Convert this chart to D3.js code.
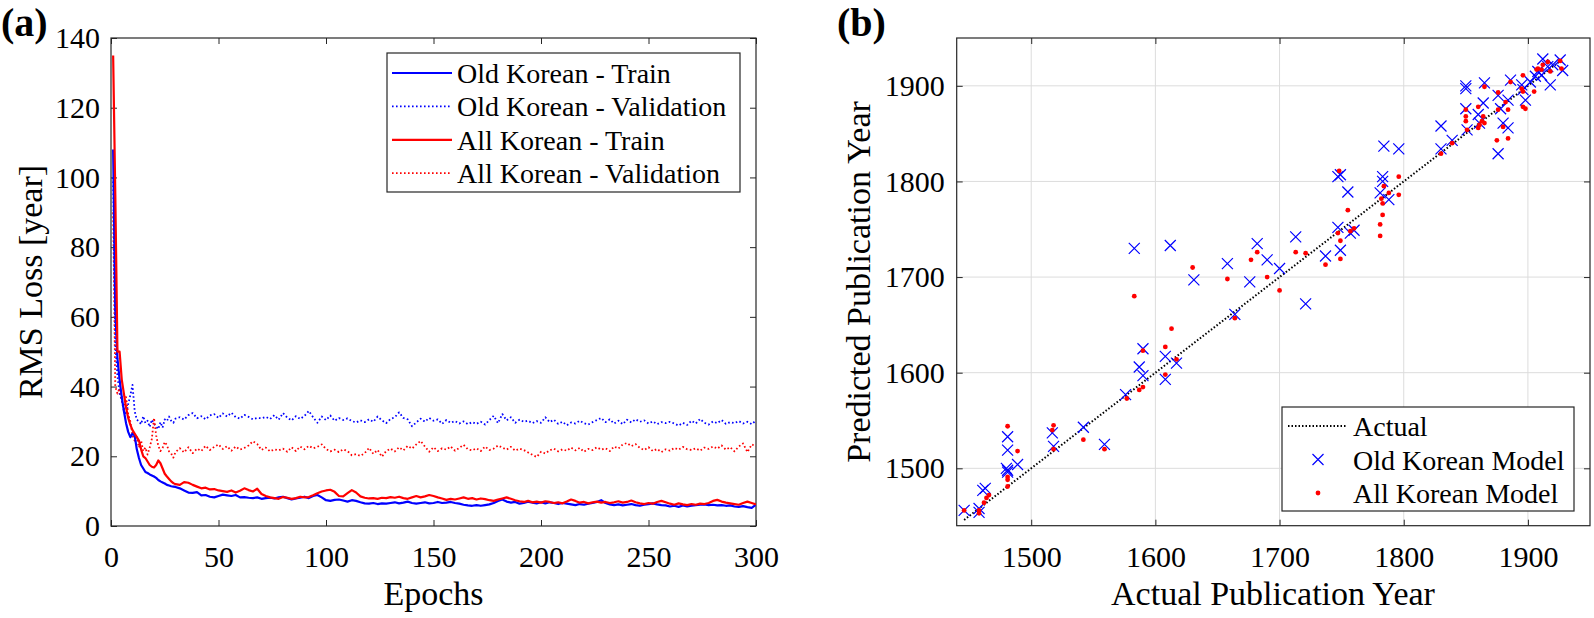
<!DOCTYPE html>
<html><head><meta charset="utf-8">
<script src="https://cdn.jsdelivr.net/npm/d3@7"></script>
<style>
body{margin:0;background:#fff;}
svg text{font-family:"Liberation Serif","Times New Roman",serif;fill:#000;}
</style></head>
<body><svg id="chart" width="1594" height="618"></svg>
<script>
// ---------- Panel (a) data ----------
const epochs = d3.range(1, 31).concat(d3.range(32, 301, 2));
const oldTrain = [108,62,48,42,37,33,29.5,27,25.5,26.5,26,22,19.5,17.5,16.5,15.5,15.2,14.8,14.5,14.2,13.8,13.2,12.8,12.5,12.2,11.8,11.6,11.4,11.3,11.2,
10.8,10.2,9.6,9.5,9.7,8.8,8.9,8.4,8.2,8.6,9.0,8.8,8.6,8.9,8.2,8.3,8.1,8.0,8.2,7.8,8.0,8.1,7.9,8.2,8.4,8.0,7.6,7.9,8.1,8.4,8.0,8.6,8.9,8.2,
7.4,7.2,7.5,7.6,7.3,7.0,7.4,7.2,6.8,6.5,6.4,6.6,6.3,6.5,6.4,6.6,6.8,6.5,6.7,7.0,6.6,6.4,6.6,6.8,6.5,6.6,6.9,6.6,6.7,6.9,6.6,6.4,6.1,5.9,5.8,6.0,
5.8,6.0,6.2,6.6,7.2,7.6,7.0,6.7,6.9,6.4,6.6,7.0,6.7,6.5,6.8,6.5,6.8,6.6,6.3,6.6,6.4,6.2,6.0,6.3,6.1,6.4,6.6,6.9,7.4,6.6,6.2,6.0,6.2,5.9,6.1,6.3,
6.0,5.8,6.1,6.3,6.5,6.2,6.0,5.9,5.6,5.8,5.5,5.9,5.6,5.8,6.0,6.1,6.2,6.0,6.1,5.9,6.0,5.8,5.9,5.6,5.5,5.7,5.4,5.2,6.1];
const oldVal = [100,52,43,38,36,33.5,32,35,37.5,40.5,33,30.5,30,29.2,31.5,29.5,30.2,28.4,30.5,29.3,28.5,27.8,29.8,28.2,30.6,30.1,31.4,30.2,29.6,30.8,
31.2,30.5,31.8,32.4,30.9,31.5,30.6,31.7,32.1,31.0,32.3,31.4,32.5,31.2,30.8,31.9,31.3,30.6,31.0,30.9,31.3,30.7,31.8,30.5,32.4,31.1,30.3,31.5,30.7,31.6,
33.0,31.2,29.6,31.4,30.4,31.7,30.2,31.0,30.4,30.9,30.1,29.7,30.3,29.8,30.6,29.9,31.4,30.3,29.5,30.7,31.2,32.6,31.0,30.6,28.6,29.7,30.8,29.9,31.0,30.2,
30.6,29.3,30.4,29.6,30.1,29.4,30.0,29.2,29.8,29.3,29.9,29.1,30.4,31.6,29.5,32.1,30.3,31.2,29.6,30.5,29.9,30.2,29.5,30.1,29.6,31.2,29.8,30.5,29.3,29.9,
28.9,29.7,29.4,30.2,29.5,29.1,29.8,30.4,31.0,29.8,30.6,29.4,30.2,29.2,30.5,29.7,30.6,29.9,30.3,29.4,30.0,29.2,29.8,29.5,29.9,29.4,28.8,29.6,29.0,30.2,
29.4,30.7,29.6,29.1,30.0,29.5,30.4,29.3,29.8,29.5,30.1,29.4,29.9,29.2,30.3];
const allTrain = [135,95,50,50,42,38,34,31,29,27.5,26.5,25.5,24.5,22,20,19.5,18.5,17.5,17,16.8,17.5,18.8,18,16.5,15,14.2,13.5,12.8,12.3,12,
11.8,12.6,12.4,11.8,11.3,10.8,11.0,10.5,10.6,10.2,10.0,9.8,10.2,9.6,10.1,10.8,10.3,9.9,10.7,9.2,8.6,8.2,8.0,7.8,8.3,8.1,7.8,8.0,8.4,8.2,
8.3,8.8,9.4,9.9,10.2,10.4,9.8,8.6,8.5,9.4,10.3,9.6,8.5,8.1,7.9,8.0,7.8,8.1,8.0,8.3,8.1,8.4,8.0,7.8,8.2,8.6,8.2,8.5,8.9,8.6,
8.2,7.9,7.5,7.8,7.6,7.9,8.2,7.8,8.0,7.6,7.9,7.7,7.4,7.2,7.6,7.9,8.2,7.8,7.4,7.1,6.9,7.2,6.8,7.0,6.7,7.1,6.9,6.6,6.8,6.5,
7.0,7.6,7.2,6.7,6.9,6.5,6.8,7.0,6.7,6.9,6.6,6.8,7.1,6.7,6.9,7.3,6.8,6.5,6.3,6.6,6.4,6.9,7.2,6.8,6.4,6.1,6.5,6.2,6.0,6.3,
6.1,6.4,6.3,6.6,7.2,7.5,7.0,6.7,6.5,6.3,6.1,6.6,7.0,6.6,6.2];
const allVal = [90,40,38,39.5,36,33,37,32,30,26,24.5,25.5,22.5,24.5,21.5,22.5,20.5,22.5,25,31,26,23,21.5,22.4,24.1,23.2,21.4,20.8,19.6,21.2,
22.3,21.1,22.6,20.9,22.2,21.5,23.0,21.8,22.7,23.4,22.1,22.9,21.6,22.8,21.9,22.4,23.1,24.3,23.5,21.8,22.5,21.4,22.0,21.7,22.2,21.3,22.6,21.5,22.8,22.0,
23.0,22.3,22.7,23.4,22.1,21.4,21.9,21.2,22.0,21.5,20.3,20.6,20.1,20.9,22.4,20.7,21.8,19.9,21.5,22.2,21.4,22.6,21.7,23.0,22.2,23.4,24.4,22.8,21.3,22.6,
21.5,22.3,21.9,22.8,21.6,22.4,23.3,22.0,21.7,22.3,21.5,22.8,21.8,22.2,23.1,22.5,21.9,22.7,21.6,22.2,21.8,21.1,20.4,19.8,21.3,20.8,21.7,22.2,21.4,22.0,
21.6,22.5,21.7,22.4,21.3,22.1,21.8,22.6,21.9,22.3,21.5,22.8,22.2,23.4,23.8,22.9,23.5,22.4,21.8,22.6,21.5,22.1,21.2,22.0,21.6,22.4,21.9,22.7,22.0,21.8,
22.3,21.6,22.5,22.1,22.8,22.2,23.1,21.9,22.6,21.4,22.8,23.7,21.2,23.4,22.9];
const lossXTicks = [0,50,100,150,200,250,300];
const lossYTicks = [0,20,40,60,80,100,120,140];
const lossLegend = ["Old Korean - Train","Old Korean - Validation","All Korean - Train","All Korean - Validation"];

// ---------- Panel (b) data ----------
const oldActual = [1583,1612,1631,1590,1608,1617,1587,1590,1608,1576,1542,1559,1517,1518,1481,1481,1489,1481,1480,1481,1463,1461,1458,1458,1446,1658,1676,1682,1690,1700,1713,1721,1737,1747,1749,1757,1760,1747,1749,1755,1783,1783,1781,1788,1784,1796,1830,1830,1839,1850,1850,1850,1851,1865,1864,1860,1861,1876,1884,1878,1880,1884,1876,1886,1895,1896,1898,1902,1918,1906,1908,1912,1916,1920,1926,1928,1911,1664];
const oldPred   = [1730,1733,1697,1625,1617,1610,1606,1597,1593,1577,1543,1525,1537,1523,1533,1519,1504,1498,1500,1496,1479,1477,1458,1454,1456,1714,1695,1735,1718,1709,1742,1672,1722,1752,1728,1746,1749,1805,1807,1789,1805,1800,1788,1781,1837,1834,1858,1834,1843,1900,1897,1876,1854,1903,1882,1870,1861,1890,1885,1876,1861,1856,1829,1906,1901,1896,1885,1904,1901,1910,1915,1928,1920,1922,1927,1916,1911,1661];
const allActual = [1583,1630,1613,1590,1608,1617,1608,1590,1587,1577,1542,1559,1518,1517,1518,1481,1489,1481,1481,1481,1464,1462,1458,1458,1446,1658,1677,1682,1690,1700,1713,1721,1737,1747,1749,1749,1757,1760,1748,1755,1784,1788,1782,1783,1783,1781,1781,1796,1796,1830,1839,1850,1850,1850,1851,1865,1860,1864,1863,1861,1860,1865,1876,1882,1884,1876,1880,1875,1884,1886,1896,1895,1896,1896,1898,1905,1908,1911,1912,1916,1918,1926,1927,1907,1664,1466];
const allPred   = [1680,1710,1646,1623,1627,1614,1598,1585,1582,1573,1530,1520,1545,1540,1520,1544,1518,1491,1488,1481,1469,1464,1456,1453,1456,1698,1718,1726,1700,1686,1726,1725,1713,1746,1738,1719,1748,1751,1811,1770,1795,1788,1782,1777,1765,1755,1743,1805,1786,1829,1840,1875,1868,1863,1854,1899,1878,1868,1863,1859,1856,1861,1893,1883,1875,1875,1857,1843,1845,1904,1911,1897,1894,1878,1876,1894,1918,1917,1922,1925,1915,1926,1918,1917,1657,1472];
const actualRange = [1446, 1928];
const yearTicks = [1500,1600,1700,1800,1900];
const scatterLegend = ["Actual","Old Korean Model","All Korean Model"];

// ---------- drawing ----------
const svg = d3.select("#chart");
const axisColor = "#262626";
const tickFont = 30;
const serif = "Liberation Serif, Times New Roman, serif";

function frame(g, x, y, xt, yt, grid, xPad, yPad) {
  const [x0, x1] = x.range(), [y0, y1] = y.range();
  if (grid) {
    g.append("g").selectAll("line").data(xt).join("line")
      .attr("x1", d => x(d)).attr("x2", d => x(d)).attr("y1", y0).attr("y2", y1)
      .attr("stroke", "#dcdcdc").attr("stroke-width", 1);
    g.append("g").selectAll("line").data(yt).join("line")
      .attr("y1", d => y(d)).attr("y2", d => y(d)).attr("x1", x0).attr("x2", x1)
      .attr("stroke", "#dcdcdc").attr("stroke-width", 1);
  }
  const fmt = d3.format("d");
  const style = sel => {
    sel.attr("font-family", serif).attr("font-size", tickFont);
    sel.select(".domain").remove();
    sel.selectAll(".tick line").attr("stroke", axisColor);
    sel.selectAll(".tick text").attr("font-size", tickFont).attr("fill", "#111")
       .attr("font-family", serif);
  };
  g.append("g").attr("transform", `translate(0,${y0})`)
    .call(d3.axisBottom(x).tickValues(xt).tickFormat(fmt).tickSize(-6).tickSizeOuter(0).tickPadding(xPad)).call(style);
  g.append("g").attr("transform", `translate(0,${y1})`)
    .call(d3.axisTop(x).tickValues(xt).tickSize(-6).tickSizeOuter(0).tickFormat("")).call(style);
  g.append("g").attr("transform", `translate(${x0},0)`)
    .call(d3.axisLeft(y).tickValues(yt).tickFormat(fmt).tickSize(-6).tickSizeOuter(0).tickPadding(yPad)).call(style);
  g.append("g").attr("transform", `translate(${x1},0)`)
    .call(d3.axisRight(y).tickValues(yt).tickSize(-6).tickSizeOuter(0).tickFormat("")).call(style);
  g.append("rect").attr("x", x0).attr("y", y1).attr("width", x1 - x0).attr("height", y0 - y1)
    .attr("fill", "none").attr("stroke", axisColor).attr("stroke-width", 1.2);
}

// Panel (a)
const xa = d3.scaleLinear().domain([0, 300]).range([111, 756]);
const ya = d3.scaleLinear().domain([0, 140]).range([526, 38]);
const ga = svg.append("g");
ga.append("clipPath").attr("id", "clipA").append("rect")
  .attr("x", 111).attr("y", 38).attr("width", 645).attr("height", 488);
frame(ga, xa, ya, lossXTicks, lossYTicks, false, 20, 11);

const lossSeries = [
  {vals: oldVal, color: "#0000ff", dash: "1.6 2.4", w: 1.8},
  {vals: allVal, color: "#ff0000", dash: "1.6 2.4", w: 1.8},
  {vals: oldTrain, color: "#0000ff", dash: null, w: 2.2},
  {vals: allTrain, color: "#ff0000", dash: null, w: 2.2}
];
const lineA = d3.line().x(d => xa(d[0])).y(d => ya(d[1]));
lossSeries.forEach(s => {
  const pts = epochs.map((e, i) => [e, s.vals[i]]).filter(p => p[1] !== undefined);
  ga.append("path").attr("d", lineA(pts)).attr("fill", "none")
    .attr("stroke", s.color).attr("stroke-width", s.w)
    .attr("stroke-dasharray", s.dash).attr("clip-path", "url(#clipA)")
    .attr("stroke-linejoin", "round");
});

// legend (a)
const la = ga.append("g");
la.append("rect").attr("x", 387).attr("y", 53).attr("width", 353).attr("height", 139)
  .attr("fill", "#fff").attr("stroke", axisColor).attr("stroke-width", 1.2);
const legStyles = [
  {color: "#0000ff", dash: null, w: 2.2},
  {color: "#0000ff", dash: "1.6 2.4", w: 1.8},
  {color: "#ff0000", dash: null, w: 2.2},
  {color: "#ff0000", dash: "1.6 2.4", w: 1.8}
];
lossLegend.forEach((t, i) => {
  const cy = 73 + i * 33.4;
  la.append("line").attr("x1", 392).attr("x2", 452).attr("y1", cy).attr("y2", cy)
    .attr("stroke", legStyles[i].color).attr("stroke-width", legStyles[i].w)
    .attr("stroke-dasharray", legStyles[i].dash);
  la.append("text").attr("x", 457).attr("y", cy + 10).attr("font-size", 28).text(t);
});

ga.append("text").attr("x", 433.5).attr("y", 605).attr("text-anchor", "middle")
  .attr("font-size", 34).text("Epochs");
ga.append("text").attr("transform", "translate(42,282) rotate(-90)").attr("text-anchor", "middle")
  .attr("font-size", 34).text("RMS Loss [year]");
ga.append("text").attr("x", 1).attr("y", 36).attr("font-size", 40).attr("font-weight", "bold").text("(a)");

// Panel (b)
const xb = d3.scaleLinear().domain([1440, 1950]).range([956.7, 1590]);
const yb = d3.scaleLinear().domain([1440, 1950]).range([525.7, 38]);
const gb = svg.append("g");
frame(gb, xb, yb, yearTicks, yearTicks, true, 20, 12);

gb.append("line").attr("x1", xb(actualRange[0])).attr("y1", yb(actualRange[0]))
  .attr("x2", xb(actualRange[1])).attr("y2", yb(actualRange[1]))
  .attr("stroke", "#000").attr("stroke-width", 2).attr("stroke-dasharray", "1.5 2");

const xMark = "M-5.5,-5.5L5.5,5.5M-5.5,5.5L5.5,-5.5";
gb.append("g").selectAll("path").data(d3.zip(oldActual, oldPred)).join("path")
  .attr("transform", d => `translate(${xb(d[0])},${yb(d[1])})`)
  .attr("d", xMark).attr("stroke", "#0000ff").attr("stroke-width", 1.2).attr("fill", "none");
gb.append("g").selectAll("circle").data(d3.zip(allActual, allPred)).join("circle")
  .attr("cx", d => xb(d[0])).attr("cy", d => yb(d[1])).attr("r", 2.4).attr("fill", "#ff0000");

// legend (b)
const lb = gb.append("g");
lb.append("rect").attr("x", 1282).attr("y", 407).attr("width", 292).attr("height", 104)
  .attr("fill", "#fff").attr("stroke", axisColor).attr("stroke-width", 1.2);
scatterLegend.forEach((t, i) => {
  const cy = 426 + i * 33.5;
  if (i === 0) {
    lb.append("line").attr("x1", 1288).attr("x2", 1347).attr("y1", cy).attr("y2", cy)
      .attr("stroke", "#000").attr("stroke-width", 2).attr("stroke-dasharray", "1.5 2");
  } else if (i === 1) {
    lb.append("path").attr("transform", `translate(1318,${cy})`).attr("d", xMark)
      .attr("stroke", "#0000ff").attr("stroke-width", 1.2);
  } else {
    lb.append("circle").attr("cx", 1318).attr("cy", cy).attr("r", 2.4).attr("fill", "#ff0000");
  }
  lb.append("text").attr("x", 1353).attr("y", cy + 10).attr("font-size", 28).text(t);
});

gb.append("text").attr("x", 1273).attr("y", 605).attr("text-anchor", "middle")
  .attr("font-size", 34).text("Actual Publication Year");
gb.append("text").attr("transform", "translate(870,282) rotate(-90)").attr("text-anchor", "middle")
  .attr("font-size", 34).text("Predicted Publication Year");
gb.append("text").attr("x", 837).attr("y", 36).attr("font-size", 40).attr("font-weight", "bold").text("(b)");
</script></body></html>
